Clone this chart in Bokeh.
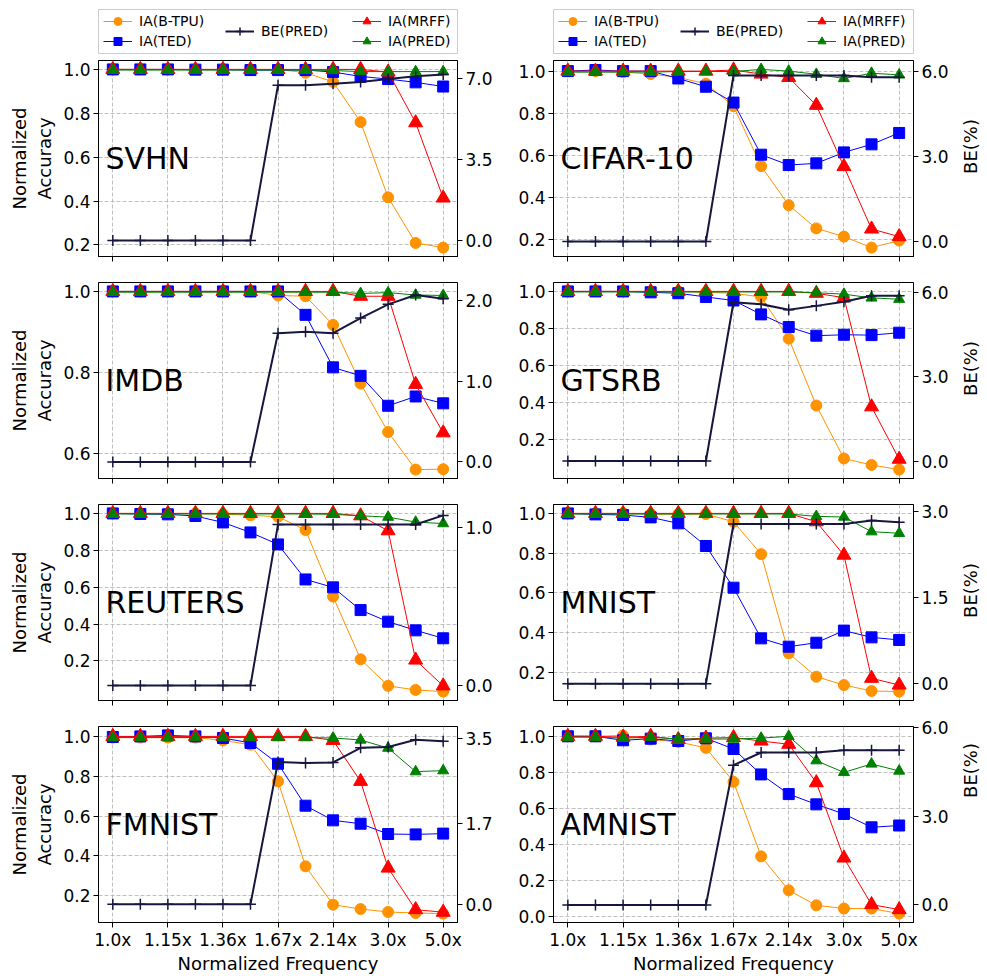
import math
from bokeh.plotting import figure
from bokeh.models import (Range1d, LinearAxis, FixedTicker, Legend, LegendItem,
                          Label, PrintfTickFormatter, CustomLabelingPolicy)
from bokeh.layouts import column, row
from bokeh.embed import file_html
from bokeh.resources import INLINE

# ---------------- data ----------------
x_idx = list(range(13))
x_tick_pos = [0, 2, 4, 6, 8, 10, 12]
x_tick_labels = ["1.0x", "1.15x", "1.36x", "1.67x", "2.14x", "3.0x", "5.0x"]
acc_ticks = [0.0, 0.2, 0.4, 0.6, 0.8, 1.0]
acc_ticks_no0 = [0.2, 0.4, 0.6, 0.8, 1.0]

series_names = ["IA(B-TPU)", "IA(TED)", "BE(PRED)", "IA(MRFF)", "IA(PRED)"]
dataset_names = ["SVHN", "CIFAR-10", "IMDB", "GTSRB", "REUTERS", "MNIST", "FMNIST", "AMNIST"]

svhn_btpu = [1.0, 1.0, 1.0, 1.0, 1.0, 1.0, 1.0, 0.985, 0.943, 0.76, 0.417, 0.209, 0.188]
svhn_ted = [1.0, 1.0, 1.0, 0.999, 0.999, 0.997, 0.997, 0.997, 0.988, 0.968, 0.956, 0.941, 0.922]
svhn_mrff = [1.0, 1.0, 1.0, 1.0, 1.0, 1.0, 1.0, 1.0, 1.0, 1.0, 0.988, 0.757, 0.414]
svhn_pred = [0.997, 0.997, 0.997, 0.997, 0.997, 0.997, 0.997, 0.997, 0.995, 0.99, 0.99, 0.99, 0.99]
svhn_be = [0, 0, 0, 0, 0, 0, 6.71, 6.71, 6.77, 6.85, 6.98, 7.1, 7.17]
svhn_be_range = [-0.69, 7.78]
svhn_be_ticks = [0.0, 3.5, 7.0]

cifar_btpu = [1.0, 1.0, 0.995, 0.986, 0.97, 0.94, 0.834, 0.55, 0.365, 0.255, 0.216, 0.164, 0.197]
cifar_ted = [1.0, 1.005, 1.0, 1.0, 0.965, 0.926, 0.851, 0.604, 0.555, 0.563, 0.615, 0.653, 0.707]
cifar_mrff = [1.0, 1.0, 1.0, 1.0, 1.0, 1.0, 1.005, 0.986, 0.97, 0.838, 0.548, 0.252, 0.216]
cifar_pred = [0.995, 0.995, 0.995, 0.995, 0.998, 0.998, 0.998, 1.008, 1.0, 0.985, 0.965, 0.99, 0.982]
cifar_be = [0, 0, 0, 0, 0, 0, 5.86, 5.86, 5.86, 5.86, 5.86, 5.8, 5.8]
cifar_be_range = [-0.53, 6.39]
cifar_be_ticks = [0.0, 3.0, 6.0]

imdb_btpu = [1.0, 1.0, 1.0, 1.0, 1.0, 1.0, 0.99, 0.988, 0.917, 0.772, 0.652, 0.559, 0.56]
imdb_ted = [1.0, 1.0, 1.0, 1.0, 1.0, 1.0, 1.0, 0.942, 0.812, 0.791, 0.717, 0.74, 0.723]
imdb_mrff = [1.0, 1.0, 1.0, 1.0, 1.0, 1.0, 1.0, 1.0, 1.0, 0.988, 0.988, 0.77, 0.65]
imdb_pred = [0.998, 0.998, 0.998, 0.998, 0.998, 0.998, 0.998, 0.998, 0.998, 0.995, 0.997, 0.991, 0.99]
imdb_be = [0, 0, 0, 0, 0, 0, 1.593, 1.61, 1.593, 1.78, 1.95, 2.066, 2.02]
imdb_be_range = [-0.205, 2.22]
imdb_be_ticks = [0.0, 1.0, 2.0]

gtsrb_btpu = [1.0, 1.0, 1.0, 1.0, 1.0, 0.995, 0.99, 0.97, 0.745, 0.384, 0.098, 0.063, 0.038]
gtsrb_ted = [1.0, 1.0, 1.0, 0.995, 0.99, 0.97, 0.951, 0.876, 0.808, 0.761, 0.766, 0.764, 0.777]
gtsrb_mrff = [1.0, 1.0, 1.0, 1.0, 1.0, 1.0, 1.0, 1.0, 1.0, 0.99, 0.966, 0.377, 0.094]
gtsrb_pred = [0.997, 0.997, 0.997, 0.997, 0.997, 0.997, 0.997, 0.997, 0.997, 0.993, 0.985, 0.965, 0.958]
gtsrb_be = [0, 0, 0, 0, 0, 0, 5.64, 5.57, 5.37, 5.51, 5.66, 5.87, 5.87]
gtsrb_be_range = [-0.62, 6.34]
gtsrb_be_ticks = [0.0, 3.0, 6.0]

reuters_btpu = [1.0, 1.0, 1.0, 1.0, 0.996, 0.99, 0.982, 0.91, 0.549, 0.209, 0.065, 0.043, 0.034]
reuters_ted = [1.0, 0.997, 0.995, 0.986, 0.951, 0.897, 0.832, 0.642, 0.599, 0.476, 0.413, 0.366, 0.323]
reuters_mrff = [1.0, 1.0, 1.0, 1.0, 1.0, 1.0, 1.0, 1.0, 1.0, 0.987, 0.906, 0.205, 0.065]
reuters_pred = [0.997, 0.997, 0.997, 0.997, 0.997, 0.997, 0.997, 0.997, 0.995, 0.987, 0.98, 0.953, 0.945]
reuters_be = [0, 0, 0, 0, 0, 0, 1.017, 1.017, 1.017, 1.017, 1.017, 1.017, 1.074]
reuters_be_range = [-0.095, 1.143]
reuters_be_ticks = [0.0, 1.0]

mnist_btpu = [1.0, 1.0, 1.0, 0.997, 0.997, 0.997, 0.958, 0.795, 0.296, 0.178, 0.136, 0.106, 0.103]
mnist_ted = [1.0, 0.995, 0.992, 0.98, 0.95, 0.836, 0.626, 0.371, 0.329, 0.349, 0.41, 0.376, 0.363]
mnist_mrff = [1.0, 1.0, 1.0, 1.0, 1.0, 1.0, 1.0, 1.0, 1.0, 0.958, 0.79, 0.17, 0.136]
mnist_pred = [0.997, 0.997, 0.997, 0.997, 0.997, 0.997, 0.997, 0.997, 0.997, 0.985, 0.982, 0.908, 0.9]
mnist_be = [0, 0, 0, 0, 0, 0, 2.78, 2.78, 2.78, 2.78, 2.78, 2.84, 2.81]
mnist_be_range = [-0.29, 3.12]
mnist_be_ticks = [0.0, 1.5, 3.0]

fmnist_btpu = [0.997, 0.997, 0.997, 0.997, 0.983, 0.961, 0.776, 0.347, 0.153, 0.131, 0.116, 0.111, 0.108]
fmnist_ted = [1.0, 1.003, 1.008, 1.003, 0.995, 0.97, 0.865, 0.653, 0.579, 0.562, 0.51, 0.508, 0.512]
fmnist_mrff = [1.003, 1.003, 1.003, 1.003, 1.003, 1.003, 1.003, 1.003, 0.983, 0.776, 0.338, 0.128, 0.115]
fmnist_pred = [0.997, 0.997, 0.997, 0.997, 0.997, 0.997, 0.997, 0.997, 0.995, 0.985, 0.944, 0.825, 0.83]
fmnist_be = [0, 0, 0, 0, 0, 0, 3.01, 2.99, 3.0, 3.31, 3.325, 3.48, 3.45]
fmnist_be_range = [-0.385, 3.76]
fmnist_be_ticks = [0.0, 1.7, 3.5]

amnist_btpu = [1.0, 1.0, 1.005, 0.982, 0.969, 0.936, 0.748, 0.335, 0.147, 0.064, 0.046, 0.046, 0.018]
amnist_ted = [1.0, 1.0, 0.978, 0.987, 0.974, 0.989, 0.93, 0.789, 0.68, 0.623, 0.57, 0.496, 0.506]
amnist_mrff = [1.0, 1.0, 0.995, 1.0, 0.982, 0.99, 0.993, 0.974, 0.956, 0.743, 0.326, 0.068, 0.04]
amnist_pred = [0.995, 0.995, 0.99, 0.995, 0.985, 0.985, 0.985, 0.99, 1.0, 0.865, 0.8, 0.847, 0.808]
amnist_be = [0, 0, 0, 0, 0, 0, 4.73, 5.16, 5.16, 5.16, 5.24, 5.24, 5.24]
amnist_be_range = [-0.594, 6.04]
amnist_be_ticks = [0.0, 3.0, 6.0]

panels = [
    (svhn_btpu, svhn_ted, svhn_mrff, svhn_pred, svhn_be, svhn_be_range, svhn_be_ticks, acc_ticks),
    (cifar_btpu, cifar_ted, cifar_mrff, cifar_pred, cifar_be, cifar_be_range, cifar_be_ticks, acc_ticks),
    (imdb_btpu, imdb_ted, imdb_mrff, imdb_pred, imdb_be, imdb_be_range, imdb_be_ticks, acc_ticks),
    (gtsrb_btpu, gtsrb_ted, gtsrb_mrff, gtsrb_pred, gtsrb_be, gtsrb_be_range, gtsrb_be_ticks, acc_ticks_no0),
    (reuters_btpu, reuters_ted, reuters_mrff, reuters_pred, reuters_be, reuters_be_range, reuters_be_ticks, acc_ticks_no0),
    (mnist_btpu, mnist_ted, mnist_mrff, mnist_pred, mnist_be, mnist_be_range, mnist_be_ticks, acc_ticks),
    (fmnist_btpu, fmnist_ted, fmnist_mrff, fmnist_pred, fmnist_be, fmnist_be_range, fmnist_be_ticks, acc_ticks),
    (amnist_btpu, amnist_ted, amnist_mrff, amnist_pred, amnist_be, amnist_be_range, amnist_be_ticks, acc_ticks),
]

# ---------------- styles / layout ----------------
C_BTPU = "#ff9200"
C_TED = "#0000ff"
C_MRFF = "#ff0000"
C_PRED = "#008000"
C_BE = "#16163f"
FONT = "DejaVu Sans"
TICK_FS = "17px"
LABEL_FS = "18px"

COL_W = [500, 460]
COL_MBL = [98, 53]
COL_MBR = [43, 47]
ROW_MBT = [5, 14, 14, 14]
ROW_MBB = [12, 12, 12, 54]
FRAME_H = 196
ROW_H = [ROW_MBT[i] + FRAME_H + ROW_MBB[i] for i in range(4)]
LEG_H = 55
BE_LABEL_W = 20


def style_axis(ax):
    ax.major_label_text_font = FONT
    ax.major_label_text_font_size = TICK_FS
    ax.major_label_text_color = "black"
    ax.major_tick_out = 5
    ax.major_tick_in = 0
    ax.minor_tick_out = 0
    ax.minor_tick_in = 0
    ax.axis_line_color = "black"
    ax.axis_line_width = 1
    ax.major_tick_line_color = "black"
    ax.major_label_standoff = 3
    ax.axis_label_text_font = FONT
    ax.axis_label_text_font_size = LABEL_FS
    ax.axis_label_text_font_style = "normal"
    ax.axis_label_text_color = "black"


def make_panel(k):
    btpu, ted, mrff, pred, be, be_rng, be_ticks, left_ticks = panels[k]
    col = k % 2
    r = k // 2
    allv = btpu + ted + mrff + pred
    vmin, vmax = min(allv), max(allv)
    span = vmax - vmin
    lo, hi = vmin - 0.05 * span, vmax + 0.05 * span
    W = COL_W[col]
    H = ROW_H[r]
    p = figure(width=W, height=H, output_backend="svg", toolbar_location=None,
               x_range=Range1d(-0.52, 12.52), y_range=Range1d(lo, hi),
               min_border_left=COL_MBL[col], min_border_right=COL_MBR[col],
               min_border_top=ROW_MBT[r], min_border_bottom=ROW_MBB[r])
    p.extra_y_ranges = {"be": Range1d(be_rng[0], be_rng[1])}
    p.background_fill_color = "white"
    p.border_fill_color = "white"
    p.outline_line_color = "black"
    p.outline_line_width = 1
    p.outline_line_alpha = 1

    p.xaxis.ticker = FixedTicker(ticks=x_tick_pos)
    p.yaxis.ticker = FixedTicker(ticks=left_ticks)
    p.yaxis.formatter = PrintfTickFormatter(format="%.1f")

    rax = LinearAxis(y_range_name="be", ticker=FixedTicker(ticks=be_ticks),
                     formatter=PrintfTickFormatter(format="%.1f"))
    p.add_layout(rax, "right")

    for ax in p.axis:
        style_axis(ax)

    if r < 3:
        # tick marks only, no tick labels
        p.xaxis.major_label_policy = CustomLabelingPolicy(
            code="for (const i of indices) { indices.unset(i) }\nreturn indices")
        p.xaxis.major_label_text_font_size = "1px"
        p.xaxis.major_label_standoff = 0
    else:
        p.xaxis.major_label_overrides = {t: l for t, l in zip(x_tick_pos, x_tick_labels)}
        p.xaxis.axis_label = "Normalized Frequency"
        p.xaxis.axis_label_standoff = 0
        p.xaxis.major_label_standoff = 2

    if col == 0:
        p.yaxis[0].axis_label = "Normalized\nAccuracy"
        p.yaxis[0].axis_label_standoff = 5

    for g in (p.xgrid, p.ygrid):
        g.grid_line_color = "#b0b0b0"
        g.grid_line_dash = "4 2"
        g.grid_line_width = 0.8

    # accuracy series (left axis)
    p.line(x_idx, btpu, color=C_BTPU, line_width=1)
    p.scatter(x_idx, btpu, marker="circle", size=11, fill_color=C_BTPU, line_color=C_BTPU)
    p.line(x_idx, ted, color=C_TED, line_width=1)
    p.scatter(x_idx, ted, marker="square", size=11, fill_color=C_TED, line_color=C_TED)
    p.line(x_idx, mrff, color=C_MRFF, line_width=1)
    p.scatter(x_idx, mrff, marker="triangle", size=14, fill_color=C_MRFF, line_color=C_MRFF)
    p.line(x_idx, pred, color=C_PRED, line_width=1)
    p.scatter(x_idx, pred, marker="triangle", size=11, fill_color=C_PRED, line_color=C_PRED)
    # bit error (right axis)
    p.line(x_idx, be, color=C_BE, line_width=2, y_range_name="be")
    p.scatter(x_idx, be, marker="cross", size=11, line_color=C_BE, line_width=1.5,
              y_range_name="be")

    p.add_layout(Label(x=7, y=FRAME_H / 2, x_units="screen", y_units="screen",
                       text=dataset_names[k], text_font=FONT, text_font_size="30px",
                       text_baseline="middle", text_align="left", text_color="black"))
    return p


def make_be_label(r):
    H = ROW_H[r]
    q = figure(width=BE_LABEL_W, height=H, output_backend="svg", toolbar_location=None,
               x_axis_type=None, y_axis_type=None,
               x_range=Range1d(0, 1), y_range=Range1d(0, 1),
               min_border_left=0, min_border_right=0, min_border_top=0, min_border_bottom=0)
    q.outline_line_color = None
    q.background_fill_color = "white"
    q.border_fill_color = "white"
    yc = H - ROW_MBT[r] - FRAME_H / 2
    q.add_layout(Label(x=BE_LABEL_W / 2, y=yc, x_units="screen", y_units="screen",
                       text="BE(%)", angle=math.pi / 2, text_font=FONT,
                       text_font_size=LABEL_FS, text_baseline="middle",
                       text_align="center", text_color="black"))
    return q


def make_legend_fig(col):
    W = COL_W[col]
    lg = figure(width=W, height=LEG_H, output_backend="svg", toolbar_location=None,
                x_axis_type=None, y_axis_type=None,
                x_range=Range1d(100, 101), y_range=Range1d(100, 101),
                min_border_left=COL_MBL[col], min_border_right=COL_MBR[col],
                min_border_top=9, min_border_bottom=2)
    lg.outline_line_color = "#cccccc"
    lg.outline_line_width = 1
    lg.background_fill_color = "white"
    lg.border_fill_color = "white"
    # legend proxies (their data lie outside the visible range of this strip)
    l1 = lg.line(x_idx, svhn_btpu, color=C_BTPU, line_width=1)
    m1 = lg.scatter(x_idx, svhn_btpu, marker="circle", fill_color=C_BTPU, line_color=C_BTPU)
    l2 = lg.line(x_idx, svhn_ted, color=C_TED, line_width=1)
    m2 = lg.scatter(x_idx, svhn_ted, marker="square", fill_color=C_TED, line_color=C_TED)
    l3 = lg.line(x_idx, svhn_be, color=C_BE, line_width=2)
    m3 = lg.scatter(x_idx, svhn_be, marker="cross", line_color=C_BE, line_width=1.5)
    l4 = lg.line(x_idx, svhn_mrff, color=C_MRFF, line_width=1)
    m4 = lg.scatter(x_idx, svhn_mrff, marker="triangle", fill_color=C_MRFF, line_color=C_MRFF)
    l5 = lg.line(x_idx, svhn_pred, color=C_PRED, line_width=1)
    m5 = lg.scatter(x_idx, svhn_pred, marker="triangle", fill_color=C_PRED, line_color=C_PRED)
    groups = [
        ([LegendItem(label=series_names[0], renderers=[l1, m1]),
          LegendItem(label=series_names[1], renderers=[l2, m2])], (5, 2)),
        ([LegendItem(label=series_names[2], renderers=[l3, m3])], (127, 12)),
        ([LegendItem(label=series_names[3], renderers=[l4, m4]),
          LegendItem(label=series_names[4], renderers=[l5, m5])], (254, 2)),
    ]
    for items, loc in groups:
        leg = Legend(items=items, location=loc, border_line_color=None,
                     background_fill_alpha=0, padding=0, margin=0, spacing=0,
                     glyph_width=29, glyph_height=20, label_height=20,
                     label_standoff=7, label_text_font=FONT,
                     label_text_font_size="14px", label_text_color="black")
        lg.add_layout(leg, "center")
    return lg


figs = [make_panel(k) for k in range(8)]
layout = column(
    row(make_legend_fig(0), make_legend_fig(1)),
    row(figs[0], figs[1], make_be_label(0)),
    row(figs[2], figs[3], make_be_label(1)),
    row(figs[4], figs[5], make_be_label(2)),
    row(figs[6], figs[7], make_be_label(3)),
)

open("out.html", "w").write(file_html(layout, INLINE))
